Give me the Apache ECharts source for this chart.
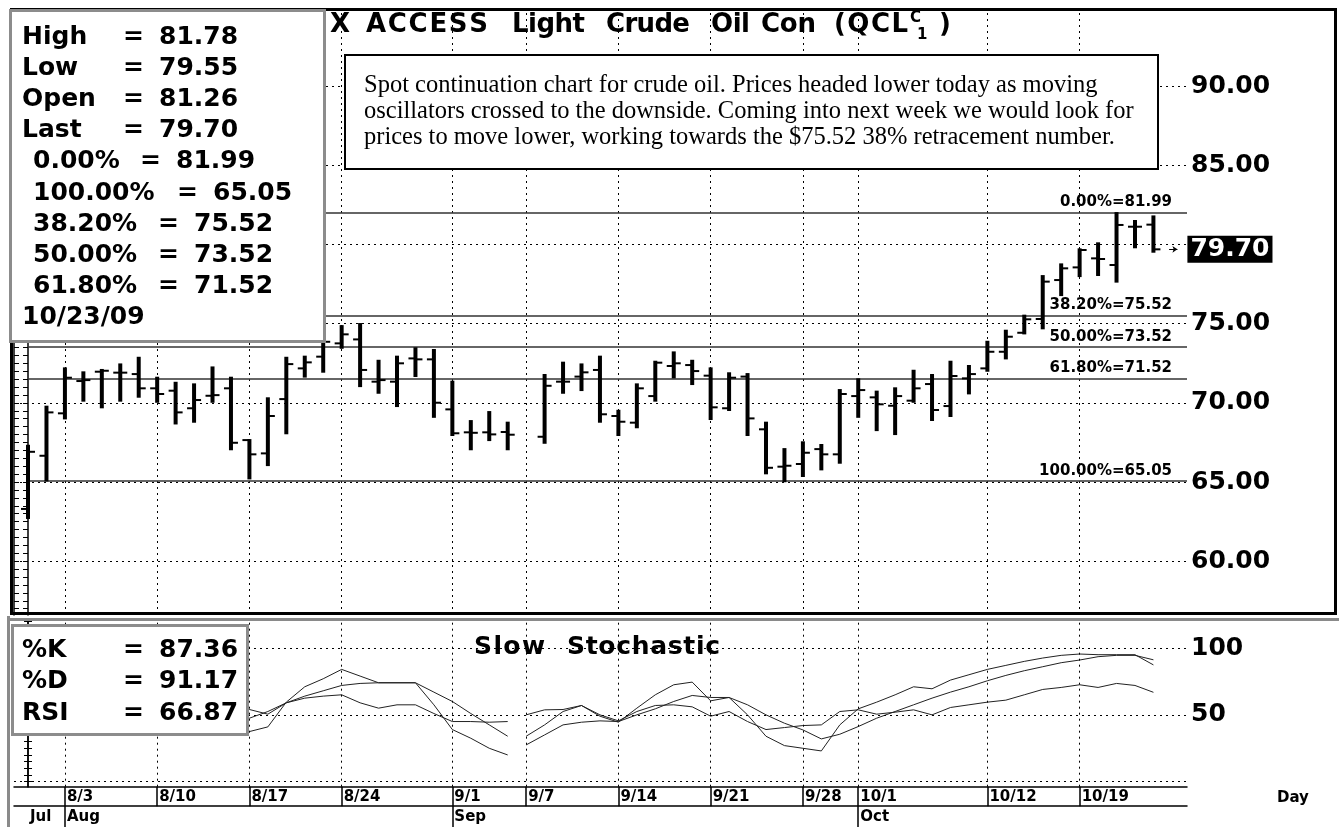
<!DOCTYPE html>
<html>
<head>
<meta charset="utf-8">
<title>Light Crude Oil</title>
<script src="https://cdn.jsdelivr.net/npm/echarts@6/dist/echarts.min.js"></script>
<style>
  html, body { margin: 0; padding: 0; background: #fff; }
  #main { width: 1339px; height: 827px; }
</style>
</head>
<body>
<div id="main"></div>
<script>
// trading days (weekdays, 9/7 holiday kept as an empty slot)
var days = ['7/30','7/31','8/3','8/4','8/5','8/6','8/7','8/10','8/11','8/12','8/13','8/14',
  '8/17','8/18','8/19','8/20','8/21','8/24','8/25','8/26','8/27','8/28','8/31',
  '9/1','9/2','9/3','9/4','9/7','9/8','9/9','9/10','9/11','9/14','9/15','9/16','9/17','9/18',
  '9/21','9/22','9/23','9/24','9/25','9/28','9/29','9/30',
  '10/1','10/2','10/5','10/6','10/7','10/8','10/9','10/12','10/13','10/14','10/15','10/16',
  '10/19','10/20','10/21','10/22','10/23'];

var open = [63.3, 66.66, 69.34, 71.38, 71.97, 71.91, 71.82, 70.92, 70.77, 69.66,
  70.45, 70.92, 67.65, 66.81, 70.24, 72.18, 72.92, 73.76, 74.01, 71.34,
  71.34, 72.81, 72.75, 69.59, 68.14, 68.14, 68.16, null, 67.86, 71.34,
  71.66, 72.08, 69.17, 68.75, 70.43, 72.33, 72.39, 71.72, 69.66, 71.66,
  68.33, 65.97, 66.14, 67.08, 66.75, 70.43, 70.35, 69.82, 70.14, 71.19,
  69.80, 71.55, 72.18, 73.23, 74.43, 75.30, 77.76, 78.56, 79.13, 78.71,
  81.13, 81.26];
var high = [67.29, 69.76, 72.18, 71.93, 72.08, 72.43, 72.85, 71.59, 71.27, 71.17,
  72.24, 71.59, 67.65, 70.29, 72.85, 72.92, 74.6, 74.85, 74.98, 72.66,
  72.92, 73.45, 73.34, 71.34, 68.85, 69.42, 68.75, null, 71.76, 72.54,
  72.43, 72.92, 69.50, 71.17, 72.60, 73.19, 72.66, 72.18, 71.87, 71.82,
  68.75, 67.08, 67.51, 67.34, 70.81, 71.49, 70.71, 70.92, 72.03, 71.76,
  72.60, 72.33, 73.86, 74.56, 75.51, 78.01, 78.75, 79.70, 80.08, 81.99,
  81.49, 81.78];
var low = [62.73, 65.1, 69.02, 70.14, 69.72, 70.14, 70.39, 70.07, 68.70, 68.81,
  70.07, 67.07, 65.23, 66.07, 68.08, 71.66, 71.97, 73.48, 71.06, 70.64,
  69.80, 71.70, 69.12, 67.97, 67.07, 67.65, 67.07, null, 67.48, 70.64,
  70.81, 68.81, 67.97, 68.46, 70.14, 71.61, 71.19, 68.98, 69.55, 67.97,
  65.55, 65.05, 65.38, 65.80, 66.22, 69.12, 68.28, 68.03, 70.07, 68.92,
  69.17, 70.60, 72.03, 72.81, 74.39, 74.71, 76.81, 78.01, 78.08, 77.66,
  79.83, 79.55];
var close = [66.91, 69.40, 71.59, 71.44, 72.03, 71.91, 70.92, 70.56, 69.40, 70.18,
  70.49, 67.48, 66.75, 69.17, 72.45, 72.56, 73.86, 74.33, 72.08, 71.44,
  72.50, 72.75, 70.01, 68.08, 68.11, 68.01, 67.99, null, 71.08, 71.34,
  71.93, 69.28, 68.81, 70.92, 72.54, 72.50, 72.01, 69.72, 71.59, 69.02,
  65.90, 66.03, 66.85, 66.75, 70.56, 70.81, 69.91, 70.43, 70.92, 69.55,
  71.70, 71.82, 73.23, 74.18, 75.28, 77.66, 78.50, 79.66, 79.09, 81.24,
  81.13, 79.70];

var stochK = [45, 62, 78, 85, 88, 90, 86, 80, 68, 60, 58, 45,
  37.5, 41, 59.5, 71, 77, 84, 79, 74, 74, 74, 57.5, 39, 32.5, 25, 20,
  34, 42.5, 52.5, 57, 49, 44.5, 55, 65, 72.5, 74.5, 60.5, 63, 50, 34, 27, 25, 23,
  42.5, 54.5, 59.5, 65, 71, 69.5, 76, 80, 84, 87, 90, 92.5, 94.5, 95.5, 95, 95, 95, 87.36];
var stochD = [40, 50, 62, 75, 84, 88, 88, 85, 78, 69, 62, 54,
  47.5, 52.5, 59, 64, 68, 72, 73.5, 74, 74, 74, 67, 60, 51, 42.5, 34,
  27.5, 35, 42.5, 44.5, 45.5, 45, 50, 54.5, 60, 64.5, 63, 63, 57.5, 50, 43.75, 38.75, 32,
  35.5, 41.25, 47.5, 52.5, 57.5, 62.5, 67, 71, 75.5, 79.5, 83, 86, 89, 91, 93.5, 94.5, 94.5, 91.17];
var rsi = [48, 58, 64, 65, 66, 67, 63, 61, 56, 58, 59, 52,
  54, 50.5, 59, 62.5, 64, 65, 59, 55, 57.5, 57.5, 51, 45, 45, 44.5, 45,
  50, 53.75, 54, 57, 50, 45.5, 52.5, 57, 57.5, 56, 49, 52.5, 45, 39, 40.5, 42, 42.5,
  52.5, 53.75, 50.5, 52, 53.75, 50, 55.5, 57.5, 59.5, 61, 65, 69, 70.5, 72.5, 70.5, 73.5, 72, 66.87];

var fibNames = ['0.00%', '38.20%', '50.00%', '61.80%', '100.00%'];
var fibLevels = [81.99, 75.52, 73.52, 71.52, 65.05];

var dateTicks = [2, 7, 12, 17, 23, 27, 32, 37, 42, 45, 52, 57];
var monthTicks = [2, 23, 45];
var monthLabelAt = [0, 2, 23, 45];
var monthNames = ['Jul', 'Aug', 'Sep', 'Oct'];
var priceGridVals = [60, 65, 70, 75, 80, 85, 90];
var priceLabelVals = [60, 65, 70, 75, 85, 90];
var stochGridVals = [0, 50, 100];
var stochLabelVals = [50, 100];

var FONT = '"DejaVu Sans", sans-serif';
var SERIF = '"Liberation Serif", "Times New Roman", serif';
var xMin = -0.76, xMax = 62.82;
var last = days.length - 1;

var chart = echarts.init(document.getElementById('main'));

var bars = [];
for (var i = 0; i < days.length; i++) {
  if (open[i] == null) continue;
  bars.push([i, open[i], high[i], low[i], close[i]]);
}

function segment(arr, from, to) {
  return arr.slice(from, to + 1).map(function (v, k) { return [from + k, v]; });
}

function range(a, b, step) {
  var out = [];
  for (var v = a; v <= b + 1e-9; v += step) out.push(Math.round(v * 100) / 100);
  return out;
}

function renderBar(params, api) {
  var x = api.value(0);
  var o = api.coord([x, api.value(1)]);
  var h = api.coord([x, api.value(2)]);
  var l = api.coord([x, api.value(3)]);
  var c = api.coord([x, api.value(4)]);
  return {
    type: 'group',
    children: [
      { type: 'line', shape: { x1: h[0], y1: h[1] - 1, x2: l[0], y2: l[1] + 1 }, style: { stroke: '#000', lineWidth: 4 } },
      { type: 'line', shape: { x1: o[0] - 7, y1: o[1], x2: o[0], y2: o[1] }, style: { stroke: '#000', lineWidth: 2 } },
      { type: 'line', shape: { x1: c[0], y1: c[1], x2: c[0] + 7, y2: c[1] }, style: { stroke: '#000', lineWidth: 2 } }
    ]
  };
}

var dotted = { type: [2, 4], color: '#000', width: 1 };

var priceGridMarks = [];
priceGridVals.forEach(function (v) { priceGridMarks.push({ yAxis: v }); });
dateTicks.forEach(function (i) { priceGridMarks.push({ xAxis: i }); });

var stochGridMarks = [];
stochGridVals.forEach(function (v) { stochGridMarks.push({ yAxis: v }); });
dateTicks.forEach(function (i) { stochGridMarks.push({ xAxis: i }); });

var fibMarks = fibLevels.map(function (v, k) {
  return [
    { xAxis: 0, yAxis: v, label: { formatter: fibNames[k] + '=' + v.toFixed(2) } },
    { xAxis: xMax, yAxis: v }
  ];
});

function lineSeries(arr, from, to) {
  return {
    type: 'line', xAxisIndex: 1, yAxisIndex: 2, data: segment(arr, from, to),
    showSymbol: false, symbol: 'none', silent: true, z: 4,
    lineStyle: { color: '#222', width: 1 }
  };
}

// graphic texts (title, info boxes)
var measureCtx = document.createElement('canvas').getContext('2d');
var g = [];
function text(x, y, s, size, extra) {
  var st = { x: x, y: y, text: s, fill: '#000', fontFamily: FONT, fontWeight: 'bold',
    fontSize: size, verticalAlign: 'middle', align: 'left' };
  for (var k in extra) st[k] = extra[k];
  return { type: 'text', z: 30, style: st };
}
// letter-spaced bold word between x0 and x1
function spaced(word, x0, x1, y, size) {
  measureCtx.font = 'bold ' + size + 'px "DejaVu Sans"';
  var chars = word.split('');
  var widths = chars.map(function (ch) { return measureCtx.measureText(ch).width; });
  var total = widths.reduce(function (a, b) { return a + b; }, 0);
  var gap = chars.length > 1 ? (x1 - x0 - total) / (chars.length - 1) : 0;
  var x = x0;
  chars.forEach(function (ch, k) { g.push(text(x, y, ch, size)); x += widths[k] + gap; });
}

g.push({ type: 'rect', z: 20, shape: { x: 11.5, y: 9.5, width: 1324, height: 604 },
  style: { fill: 'none', stroke: '#000', lineWidth: 3 } });
g.push({ type: 'line', z: 20, shape: { x1: 7, y1: 619.5, x2: 1339, y2: 619.5 },
  style: { stroke: '#8a8a8a', lineWidth: 3 } });
g.push({ type: 'line', z: 20, shape: { x1: 8.5, y1: 616, x2: 8.5, y2: 827 },
  style: { stroke: '#8a8a8a', lineWidth: 3 } });

// title
spaced('X', 330, 343, 25, 26);
spaced('ACCESS', 366, 488, 25, 26);
spaced('Light', 512, 585, 25, 26);
spaced('Crude', 606, 690, 25, 26);
spaced('Oil', 711, 750, 25, 26);
spaced('Con', 761, 816, 25, 26);
spaced('(QCL', 834, 908, 25, 26);
g.push(text(910, 18, 'C', 15));
g.push(text(917, 35, '1', 15));
g.push(text(939, 25, ')', 26));

// comment box
g.push({ type: 'rect', z: 25, shape: { x: 345, y: 55, width: 813, height: 114 },
  style: { fill: '#fff', stroke: '#000', lineWidth: 2 } });
var note = ['Spot continuation chart for crude oil. Prices headed lower today as moving',
  'oscillators crossed to the downside. Coming into next week we would look for',
  'prices to move lower, working towards the $75.52 38% retracement number.'];
note.forEach(function (s, k) {
  g.push(text(364, 86 + k * 26, s, 24.5, { fontFamily: SERIF, fontWeight: 'normal' }));
});

// price info box
g.push({ type: 'rect', z: 25, shape: { x: 10.5, y: 10.5, width: 314, height: 331 },
  style: { fill: '#fff', stroke: '#8c8c8c', lineWidth: 3 } });
var infoNames = ['High', 'Low', 'Open', 'Last'].concat(fibNames.slice(0, 1), fibNames.slice(4), fibNames.slice(1, 4));
var infoVals = [high[last], low[last], open[last], close[last], fibLevels[0], fibLevels[4], fibLevels[1], fibLevels[2], fibLevels[3]];
var nameX = [22, 22, 22, 22, 33, 33, 33, 33, 33];
var eqX = [123, 123, 123, 123, 140, 177, 158, 158, 158];
infoNames.forEach(function (n, k) {
  var y = 37 + k * 31.2;
  g.push(text(nameX[k], y, n, 25));
  g.push(text(eqX[k], y, '=', 25));
  g.push(text(eqX[k] + 36, y, infoVals[k].toFixed(2), 25));
});
g.push(text(22, 37 + 9 * 31.2, '10/23/09', 25));

// stochastic info box
g.push({ type: 'rect', z: 25, shape: { x: 12.5, y: 625.5, width: 235, height: 109 },
  style: { fill: '#fff', stroke: '#8c8c8c', lineWidth: 3 } });
var stNames = ['%K', '%D', 'RSI'];
var stVals = [stochK[last], stochD[last], rsi[last]];
stNames.forEach(function (n, k) {
  var y = 650 + k * 31.5;
  g.push(text(22, y, n, 25));
  g.push(text(123, y, '=', 25));
  g.push(text(159, y, stVals[k].toFixed(2), 25));
});
spaced('Slow', 474, 545, 647, 25);
spaced('Stochastic', 567, 720, 647, 25);
g.push(text(1277, 798, 'Day', 15));

var option = {
  animation: false,
  backgroundColor: '#fff',
  grid: [
    { left: 14, right: 152, top: 10, height: 605, outerBoundsMode: 'none' },
    { left: 14, right: 152, top: 621, height: 165.7, outerBoundsMode: 'none' }
  ],
  xAxis: [
    { type: 'value', gridIndex: 0, min: xMin, max: xMax, show: false },
    {
      type: 'value', gridIndex: 1, min: xMin, max: xMax, position: 'bottom',
      axisLine: { show: true, onZero: false, lineStyle: { color: '#000', width: 1.5 } },
      axisTick: { show: true, customValues: dateTicks, length: 19.5, lineStyle: { color: '#000', width: 1.5 } },
      axisLabel: {
        customValues: dateTicks, align: 'left', margin: 3, padding: [0, 0, 0, 2],
        fontFamily: FONT, fontWeight: 'bold', fontSize: 15, color: '#000',
        formatter: function (v) { return days[Math.round(v)]; }
      },
      splitLine: { show: false }
    },
    {
      type: 'value', gridIndex: 1, min: xMin, max: xMax, position: 'bottom', offset: 19.5,
      axisLine: { show: true, onZero: false, lineStyle: { color: '#000', width: 1.5 } },
      axisTick: { show: true, customValues: monthTicks, length: 22, lineStyle: { color: '#000', width: 1.5 } },
      axisLabel: {
        customValues: monthLabelAt, align: 'left', margin: 3, padding: [0, 0, 0, 2],
        fontFamily: FONT, fontWeight: 'bold', fontSize: 15, color: '#000',
        formatter: function (v) { return monthNames[monthLabelAt.indexOf(Math.round(v))]; }
      },
      splitLine: { show: false }
    }
  ],
  yAxis: [
    {
      type: 'value', gridIndex: 0, position: 'right', min: 56.6, max: 94.82,
      axisLine: { show: true, lineStyle: { color: '#000', width: 1.5 } },
      axisTick: { show: true, inside: true, length: 5, customValues: range(57, 94.5, 0.5), lineStyle: { color: '#000' } },
      axisLabel: { customValues: priceLabelVals, margin: 4, fontSize: 25, fontFamily: FONT, fontWeight: 'bold', color: '#000',
        formatter: function (v) { return v.toFixed(2); } },
      splitLine: { show: false }
    },
    {
      type: 'value', gridIndex: 0, position: 'left', min: 56.6, max: 94.82,
      axisLine: { show: true, lineStyle: { color: '#000', width: 1.5 } },
      axisTick: { show: true, inside: true, length: 5, customValues: range(57, 94.5, 0.5), lineStyle: { color: '#000' } },
      axisLabel: { show: false },
      splitLine: { show: false }
    },
    {
      type: 'value', gridIndex: 1, position: 'right', min: -3.74, max: 120.2,
      axisLine: { show: true, lineStyle: { color: '#000', width: 1.5 } },
      axisTick: { show: true, inside: true, length: 4, customValues: range(0, 120, 5), lineStyle: { color: '#000' } },
      axisLabel: { customValues: stochLabelVals, margin: 4, fontSize: 25, fontFamily: FONT, fontWeight: 'bold', color: '#000' },
      splitLine: { show: false }
    },
    {
      type: 'value', gridIndex: 1, position: 'left', min: -3.74, max: 120.2,
      axisLine: { show: true, lineStyle: { color: '#000', width: 1.5 } },
      axisTick: { show: true, inside: true, length: 4, customValues: range(0, 120, 5), lineStyle: { color: '#000' } },
      axisLabel: { show: false },
      splitLine: { show: false }
    }
  ],
  series: [
    {
      type: 'line', xAxisIndex: 0, yAxisIndex: 0, data: [], z: 1, silent: true,
      markLine: { silent: true, symbol: ['none', 'none'], label: { show: false }, lineStyle: dotted, data: priceGridMarks }
    },
    {
      type: 'line', xAxisIndex: 0, yAxisIndex: 0, data: [], z: 2, silent: true,
      markLine: {
        silent: true, symbol: ['none', 'none'],
        lineStyle: { type: 'solid', color: '#333', width: 1.5 },
        label: { position: 'insideEndTop', distance: [15, 3], fontFamily: FONT, fontWeight: 'bold', fontSize: 15, color: '#000' },
        data: fibMarks
      }
    },
    {
      // last price tag on the axis, with the small arrow pointing at it
      type: 'line', xAxisIndex: 0, yAxisIndex: 0, data: [], z: 6, silent: true, clip: false,
      markLine: {
        silent: true, symbol: ['none', 'arrow'], symbolSize: [5, 5],
        lineStyle: { type: 'solid', color: '#000', width: 1 },
        label: {
          show: true, position: 'end', distance: 10, formatter: close[last].toFixed(2),
          backgroundColor: '#000', color: '#fff', fontSize: 25, fontWeight: 'bold',
          fontFamily: FONT, padding: [2, 3, 0, 3]
        },
        data: [[{ xAxis: 61.85, yAxis: close[last] }, { xAxis: 62.3, yAxis: close[last] }]]
      }
    },
    {
      type: 'custom', xAxisIndex: 0, yAxisIndex: 0, data: bars, renderItem: renderBar, z: 5, silent: true,
      encode: { x: 0, y: [1, 2, 3, 4] }
    },
    {
      type: 'line', xAxisIndex: 1, yAxisIndex: 2, data: [], z: 1, silent: true,
      markLine: { silent: true, symbol: ['none', 'none'], label: { show: false }, lineStyle: dotted, data: stochGridMarks }
    },
    lineSeries(stochK, 0, 26), lineSeries(stochK, 27, last),
    lineSeries(stochD, 0, 26), lineSeries(stochD, 27, last),
    lineSeries(rsi, 0, 26), lineSeries(rsi, 27, last)
  ],
  graphic: { elements: g }
};

chart.setOption(option);
</script>
</body>
</html>
